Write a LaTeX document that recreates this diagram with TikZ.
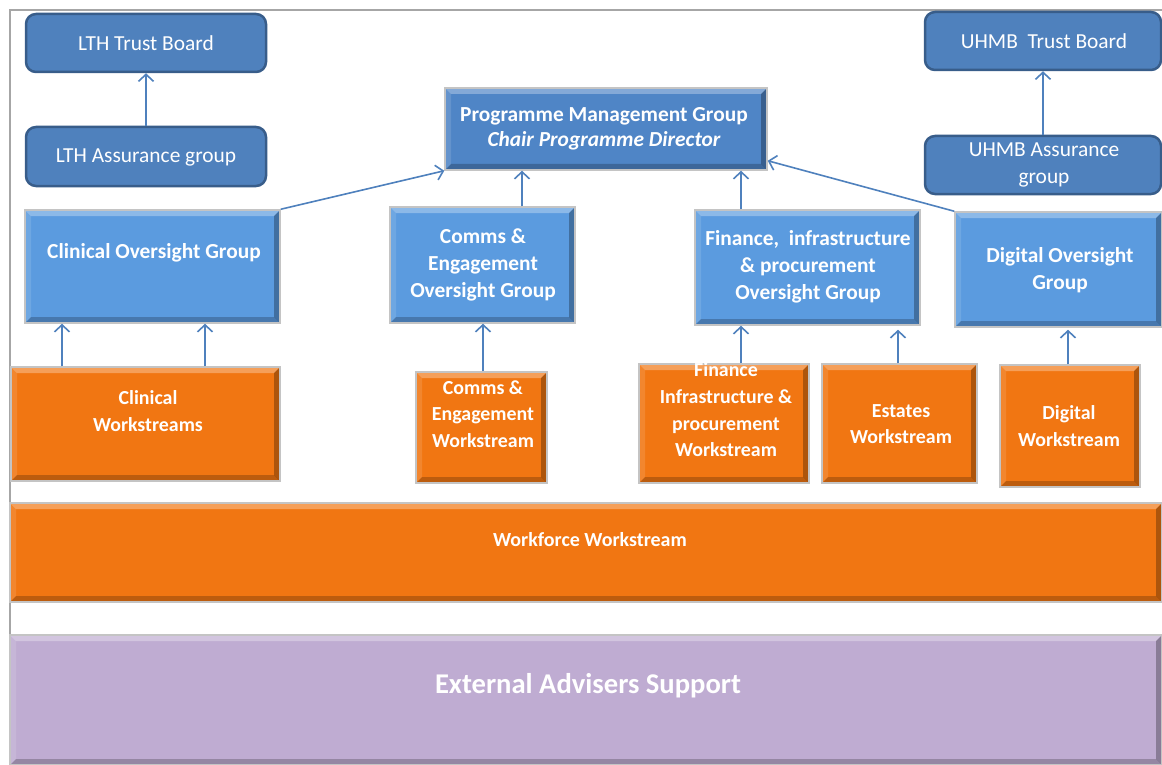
\documentclass[tikz,border=0pt]{standalone}
\usepackage{fontspec}
\setmainfont{Carlito}
\usetikzlibrary{arrows.meta,calc}
\definecolor{darkblue}{HTML}{4F81BD}
\definecolor{darkblueline}{HTML}{385D8A}
\definecolor{pmgblue}{HTML}{4F85C6}
\definecolor{lightblue}{HTML}{5B9BDF}
\definecolor{orangefill}{HTML}{F17612}
\definecolor{purplefill}{HTML}{BFACD2}
\definecolor{bordergray}{HTML}{C4C4C4}
\definecolor{framegray}{HTML}{A6A6A6}
\definecolor{arrowblue}{HTML}{4F81BD}
\newcommand\mkbox[6]{\node[#6, minimum width={(#4-#2)*1pt}, minimum height={(#5-#3)*1pt}] (#1) at ({(#2+#4)/2},{(#3+#5)/2}) {};}
\tikzset{
  roundbox/.style={draw=darkblueline, line width=2.5pt, fill=darkblue, rounded corners=10pt, inner sep=0pt},
  bevel/.style={draw=bordergray, line width=1.5pt, inner sep=0pt,
    path picture={
      \coordinate (nw) at (path picture bounding box.north west);
      \coordinate (se) at (path picture bounding box.south east);
      \fill[white, opacity=0.30] (nw) -- (nw -| se) -- ($(nw -| se)+(-6,6)$) -- ($(nw)+(6,6)$) -- cycle;
      \fill[white, opacity=0.12] (nw) -- ($(nw)+(6,6)$) -- ($(nw |- se)+(6,-6)$) -- (nw |- se) -- cycle;
      \fill[black, opacity=0.28] (nw -| se) -- (se) -- ($(se)+(-6,-6)$) -- ($(nw -| se)+(-6,6)$) -- cycle;
      \fill[black, opacity=0.22] (nw |- se) -- (se) -- ($(se)+(-6,-6)$) -- ($(nw |- se)+(6,-6)$) -- cycle;
    }},
  bluebox/.style={bevel, fill=lightblue},
  pmgbox/.style={bevel, fill=pmgblue},
  orangebox/.style={bevel, fill=orangefill},
  purplebox/.style={bevel, fill=purplefill},
  rtxt/.style={text=white, font=\fontsize{21.4}{27}\selectfont, align=center, inner sep=0pt},
  btxt/.style={text=white, font=\bfseries\fontsize{21.4}{27}\selectfont, align=center, inner sep=0pt},
  wtxt/.style={text=white, font=\bfseries\fontsize{19.9}{26.7}\selectfont, align=center, inner sep=0pt},
  arr/.style={draw=arrowblue, line width=1.6pt, -{Straight Barb[length=7pt,width=15pt,line width=1.6pt]}},
}
\begin{document}
\begin{tikzpicture}[x=1pt,y=-1pt]
\useasboundingbox (0,0) rectangle (1162,765);
\fill[white] (0,0) rectangle (1162,765);
\draw[framegray, line width=1.5pt] (10,765) -- (10,10) -- (1162,10);

% rounded boxes
\mkbox{ltb}{26}{14}{266}{72}{roundbox}
\mkbox{lta}{26}{127}{266}{186}{roundbox}
\mkbox{utb}{925}{12}{1161}{70}{roundbox}
\mkbox{uta}{925}{136}{1161}{194}{roundbox}
\node[rtxt] (ltbt) at (146,43) {LTH Trust Board};
\node[rtxt] (ltat) at (146,157) {LTH Assurance group};
\node[rtxt] (utbt) at (1044,41) {UHMB\ \ Trust Board};
\node[rtxt] (utat) at (1044,165) {UHMB Assurance\\group};

% programme management group
\mkbox{pmg}{445}{88}{767}{170}{pmgbox}
\node[btxt, font=\bfseries\fontsize{21.4}{25}\selectfont] (pmgt) at (604,129) {Programme Management Group\\\itshape Chair Programme Director};

% oversight groups
\mkbox{cog}{25}{210}{280}{323}{bluebox}
\mkbox{ceog}{390}{207}{575}{323}{bluebox}
\mkbox{fog}{695}{210}{920}{325}{bluebox}
\mkbox{dog}{955}{212}{1162}{327}{bluebox}
\node[btxt] (cogt) at (154,253) {Clinical\ Oversight Group};
\node[btxt] (ceogt) at (483,265) {Comms \&\\Engagement\\Oversight Group};
\node[btxt] (fogt) at (808,267) {Finance,\ \ infrastructure\\\& procurement\\Oversight Group};
\node[btxt] (dogt) at (1060,270) {Digital Oversight\\Group};

% workstreams
\mkbox{cws}{11}{367}{280}{481}{orangebox}
\mkbox{cews}{416}{372}{547}{483}{orangebox}
\mkbox{fws}{639}{364}{809}{483}{orangebox}
\mkbox{ews}{822}{364}{977}{483}{orangebox}
\mkbox{dws}{1000}{365}{1140}{487}{orangebox}
\node[wtxt] (cwst) at (148,411) {Clinical\\Workstreams};
\node[wtxt] (cewst) at (483,414) {Comms \&\\Engagement\\Workstream};
\node[wtxt] (fwst) at (726,410) {Finance\\Infrastructure \&\\procurement\\Workstream};
\node[wtxt] (ewst) at (901,424) {Estates\\Workstream};
\node[wtxt] (dwst) at (1069,426) {Digital\\Workstream};

% wide bars
\mkbox{wfw}{10}{503}{1162}{602}{orangebox}
\mkbox{ext}{10}{635}{1162}{765}{purplebox}
\node[btxt, font=\bfseries\fontsize{20}{22}\selectfont] (wfwt) at (590,540) {Workforce Workstream};
\node[btxt, font=\bfseries\fontsize{28.6}{32}\selectfont] (extt) at (588,686) {External Advisers Support};

% x positions for vertical connectors
\coordinate (xa) at (62,0);
\coordinate (xb) at (205,0);
\coordinate (xc) at (522,0);
\coordinate (xd) at (483,0);
\coordinate (xe) at (741,0);
\coordinate (xf) at (898,0);
\coordinate (xg) at (1068,0);

% connectors
\draw[arr] (lta.north) -- (ltb.south);
\draw[arr] (uta.north) -- (utb.south);
\draw[arr] (cws.north -| xa) -- (cog.south -| xa);
\draw[arr] (cws.north -| xb) -- (cog.south -| xb);
\draw[arr] (cog.north east) -- (pmg.south west);
\draw[arr] (ceog.north -| xc) -- (pmg.south -| xc);
\draw[arr] (cews.north -| xd) -- (ceog.south -| xd);
\draw[arr] (fog.north -| xe) -- (pmg.south -| xe);
\draw[arr] (dog.north west) -- ([yshift=10pt]pmg.south east);
\draw[arr] (fws.north -| xe) -- (fog.south -| xe);
\draw[arr] (ews.north -| xf) -- ([yshift=-4pt]fog.south -| xf);
\draw[arr] (dws.north -| xg) -- ([yshift=-2pt]dog.south -| xg);
\end{tikzpicture}
\end{document}
